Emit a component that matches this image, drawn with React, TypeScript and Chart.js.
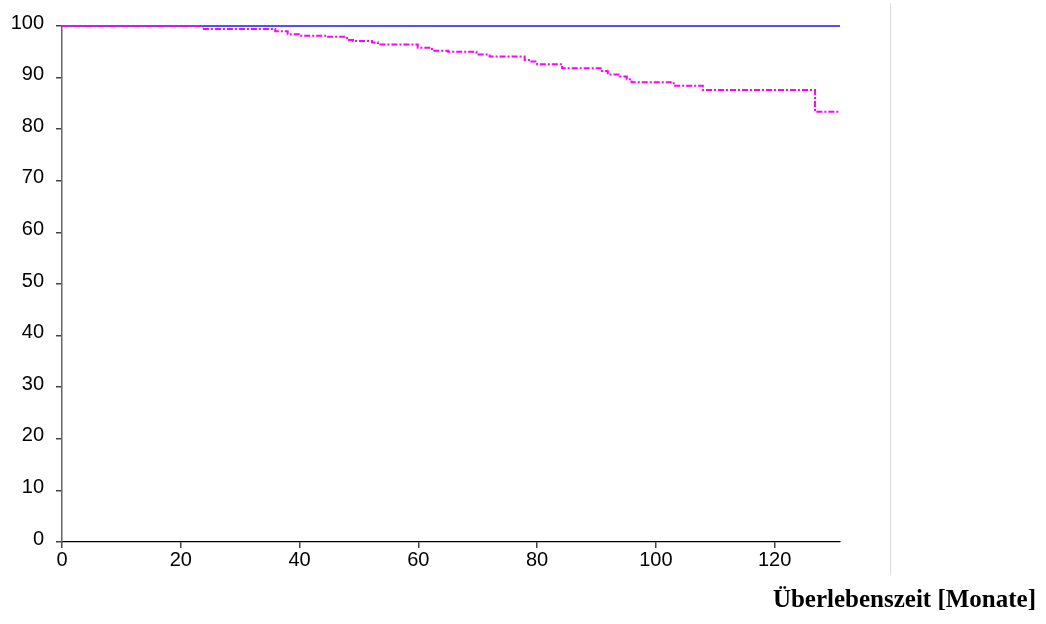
import React, { useEffect, useRef } from "react";
import { Chart, registerables } from "chart.js";

Chart.register(...registerables);

// Kaplan-Meier style step curve (months, survival %)
const monthsB = [0, 23.7, 35.9, 38.0, 40.1, 44.8, 48.0, 49.0, 52.2, 53.2, 59.9, 62.3, 65.0, 69.8, 72.0, 77.9, 78.8, 80.0, 84.2, 90.9, 91.9, 93.9, 95.1, 95.9, 103.0, 107.9, 126.8, 131];
const survivalB = [100, 99.4, 99.0, 98.4, 98.1, 97.9, 97.3, 97.1, 96.8, 96.4, 95.8, 95.2, 95.0, 94.5, 94.1, 93.4, 93.1, 92.6, 91.8, 91.3, 90.6, 90.2, 89.7, 89.1, 88.4, 87.6, 83.4, 83.4];
const monthsA = [0, 131];
const survivalA = [100, 100];
const xTicks = [0, 20, 40, 60, 80, 100, 120];
const yTicks = [0, 10, 20, 30, 40, 50, 60, 70, 80, 90, 100];
const xTitle = "Überlebenszeit [Monate]";

const decor = {
  id: "decor",
  afterDraw(chart: any) {
    const ctx = chart.ctx;
    ctx.save();
    ctx.strokeStyle = "#dcdcdc";
    ctx.lineWidth = 1;
    ctx.beginPath();
    ctx.moveTo(890.5, 3);
    ctx.lineTo(890.5, 575);
    ctx.stroke();
    ctx.font = 'bold 25px "Liberation Serif"';
    ctx.textAlign = "right";
    ctx.textBaseline = "alphabetic";
    ctx.fillStyle = "#000";
    ctx.fillText(xTitle, 1036, 607);
    ctx.restore();
  },
};

export default function App() {
  const ref = useRef<HTMLCanvasElement>(null);
  useEffect(() => {
    if (!ref.current) return;
    const chart = new Chart(ref.current, {
      type: "line",
      data: {
        datasets: [
          {
            data: monthsB.map((m, i) => ({ x: m, y: survivalB[i] })),
            borderColor: "#ff00ff",
            borderWidth: 2,
            borderDash: [6, 2, 2, 2],
            stepped: true,
            pointRadius: 0,
            fill: false,
            clip: 4,
          },
          {
            data: monthsA.map((m, i) => ({ x: m, y: survivalA[i] })),
            borderColor: "#5050ff",
            borderWidth: 2,
            pointRadius: 0,
            fill: false,
            clip: 4,
          },
        ],
      },
      options: {
        animation: false,
        responsive: false,
        devicePixelRatio: 1,
        layout: { padding: { left: 0, top: 26, right: 206, bottom: 0 } },
        plugins: { legend: { display: false }, tooltip: { enabled: false } },
        scales: {
          x: {
            type: "linear",
            min: 0,
            max: 131,
            afterBuildTicks: (s: any) => {
              s.ticks = xTicks.map((v) => ({ value: v }));
            },
            afterFit: (s: any) => {
              s.height = 82;
            },
            grid: { drawOnChartArea: false, drawTicks: true, tickLength: 6, color: "#444", lineWidth: 1.5 },
            border: { color: "#000", width: 1.3 },
            ticks: {
              font: { family: "Liberation Sans", size: 20 },
              color: "#000",
              padding: 0,
              maxRotation: 0,
            },
          },
          y: {
            type: "linear",
            min: 0,
            max: 100,
            afterBuildTicks: (s: any) => {
              s.ticks = yTicks.map((v) => ({ value: v }));
            },
            afterFit: (s: any) => {
              s.width = 62;
            },
            grid: { drawOnChartArea: false, drawTicks: true, tickLength: 6, color: "#444", lineWidth: 1.5 },
            border: { color: "#666", width: 1.5 },
            ticks: {
              font: { family: "Liberation Sans", size: 20 },
              color: "#000",
              padding: 12,
              labelOffset: -3,
            },
          },
        },
      },
      plugins: [decor],
    });
    return () => chart.destroy();
  }, []);
  return (
    <div style={{ position: "absolute", left: 0, top: 0, width: 1046, height: 624, background: "#fff" }}>
      <canvas ref={ref} width={1046} height={624} style={{ display: "block" }} />
    </div>
  );
}
